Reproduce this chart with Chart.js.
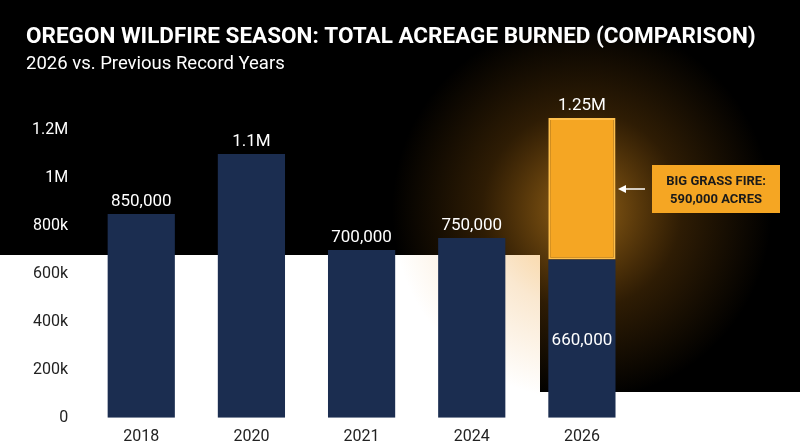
<!DOCTYPE html>
<html><head><meta charset="utf-8">
<script src="https://cdn.jsdelivr.net/npm/chart.js@4"></script>
<style>html,body{margin:0;padding:0;background:#000}#wrap{width:800px;height:447px;position:relative}</style>
</head><body><div id="wrap"><canvas id="c"></canvas></div>
<script>
const years = ['2018', '2020', '2021', '2024', '2026'];
const baseAcres = [850000, 1100000, 700000, 750000, 660000];
const fireAcres = [0, 0, 0, 0, 590000];
const topLabels = ['850,000', '1.1M', '700,000', '750,000', '1.25M'];
const yTicks = {0: '0', 200000: '200k', 400000: '400k', 600000: '600k', 800000: '800k', 1000000: '1M', 1200000: '1.2M'};

const backdrop = {
  id: 'backdrop',
  beforeDraw(chart) {
    const ctx = chart.ctx;
    ctx.save();
    ctx.fillStyle = '#000';
    ctx.fillRect(0, 0, 800, 447);
    ctx.fillStyle = '#fff';
    ctx.fillRect(0, 255, 540, 192);
    ctx.fillRect(540, 392, 260, 55);
    const x = chart.scales.x.getPixelForValue(4);
    const g = ctx.createRadialGradient(x, 210, 10, x, 210, 190);
    g.addColorStop(0, 'rgba(255,170,40,0.55)');
    g.addColorStop(0.5, 'rgba(230,140,20,0.2)');
    g.addColorStop(1, 'rgba(230,140,20,0)');
    ctx.fillStyle = g;
    ctx.fillRect(380, 30, 420, 417);
    ctx.fillStyle = '#fff';
    ctx.font = 'bold 22.5px Roboto';
    ctx.fillText('OREGON WILDFIRE SEASON: TOTAL ACREAGE BURNED (COMPARISON)', 26, 43);
    ctx.font = '18.5px Roboto';
    ctx.fillText('2026 vs. Previous Record Years', 26, 69);
    ctx.restore();
  },
  afterDatasetsDraw(chart) {
    const ctx = chart.ctx, x = chart.scales.x, y = chart.scales.y;
    ctx.save();
    ctx.font = '17px Roboto';
    ctx.textAlign = 'center';
    ctx.fillStyle = '#fff';
    years.forEach((yr, i) => {
      const v = baseAcres[i] + fireAcres[i];
      ctx.fillText(topLabels[i], x.getPixelForValue(i), y.getPixelForValue(v) - 8);
    });
    ctx.fillText('660,000', x.getPixelForValue(4), y.getPixelForValue(baseAcres[4] / 2) + 6);
    // callout
    ctx.fillStyle = '#f5a623';
    ctx.fillRect(652, 165, 128, 48);
    ctx.fillStyle = '#1a1a1a';
    ctx.font = 'bold 13px Roboto';
    ctx.fillText('BIG GRASS FIRE:', 716, 185);
    ctx.fillText('590,000 ACRES', 716, 203);
    ctx.strokeStyle = '#fff'; ctx.fillStyle = '#fff'; ctx.lineWidth = 1.5;
    ctx.beginPath(); ctx.moveTo(645, 189); ctx.lineTo(624, 189); ctx.stroke();
    ctx.beginPath(); ctx.moveTo(618, 189); ctx.lineTo(626, 185); ctx.lineTo(626, 193); ctx.fill();
    ctx.restore();
  }
};

new Chart(document.getElementById('c'), {
  type: 'bar',
  data: {
    labels: years,
    datasets: [
      {data: baseAcres, backgroundColor: '#1b2d50', barPercentage: 0.61, categoryPercentage: 1},
      {data: fireAcres, backgroundColor: '#f5a623', borderColor: '#ffc04d', borderWidth: 2, borderSkipped: false, barPercentage: 0.61, categoryPercentage: 1}
    ]
  },
  options: {
    responsive: true, maintainAspectRatio: false, animation: false,
    layout: {padding: {top: 106, right: 163, left: 22, bottom: -2}},
    plugins: {legend: {display: false}, tooltip: {enabled: false}},
    scales: {
      x: {stacked: true, grid: {display: false}, border: {display: false},
        ticks: {color: '#222', padding: 2, font: {family: 'Roboto', size: 16}}},
      y: {stacked: true, min: 0, max: 1300000, grid: {display: false}, border: {display: false},
        afterBuildTicks(s) { s.ticks = Object.keys(yTicks).map(v => ({value: +v})); },
        ticks: {font: {family: 'Roboto', size: 16}, padding: 10,
          color: c => c.tick.value >= 800000 ? '#fff' : '#222',
          callback: v => yTicks[v]}}
    }
  },
  plugins: [backdrop]
});
</script></body></html>
